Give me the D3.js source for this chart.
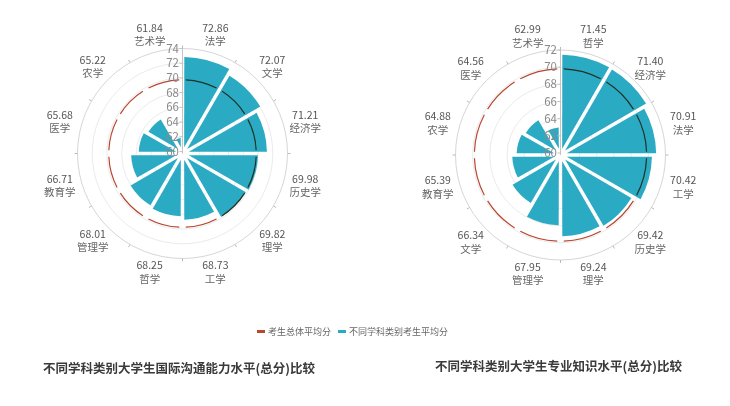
<!DOCTYPE html>
<html>
<head>
<meta charset="utf-8">
<script src="https://cdn.jsdelivr.net/npm/d3@7/dist/d3.min.js"></script>
<style>
  body { margin: 0; background: #fff; }
  svg { display: block; font-family: "Noto Sans CJK SC", "Noto Sans", sans-serif; }
</style>
</head>
<body>
<div id="graf"></div>
<script>
// I. Datos
subjects1 = ['法学', '文学', '经济学', '历史学', '理学', '工学', '哲学', '管理学', '教育学', '医学', '农学', '艺术学']
scores1   = [72.86, 72.07, 71.21, 69.98, 69.82, 68.73, 68.25, 68.01, 66.71, 65.68, 65.22, 61.84]
overall1  = 69.75
ticks1    = [60, 62, 64, 66, 68, 70, 72, 74]
title1    = '不同学科类别大学生国际沟通能力水平(总分)比较'

subjects2 = ['哲学', '经济学', '法学', '工学', '历史学', '理学', '管理学', '文学', '教育学', '农学', '医学', '艺术学']
scores2   = [71.45, 71.40, 70.91, 70.42, 69.42, 69.24, 67.95, 66.34, 65.39, 64.88, 64.56, 62.99]
overall2  = 69.8
ticks2    = [60, 62, 64, 66, 68, 70, 72]
title2    = '不同学科类别大学生专业知识水平(总分)比较'

legendNames = ['考生总体平均分', '不同学科类别考生平均分']

// II. Configuración
ancho = 730
alto = 406
R = 105
barColor = '#2aaac3'
avgColor = '#b8472f'

svg = d3.select('#graf').append('svg')
        .attr('width', ancho)
        .attr('height', alto)

svg.append('rect').attr('width', ancho).attr('height', alto).attr('fill', '#fff')

// III. Rosa polar
function rose(cx, cy, subjects, scores, overall, ticks) {
  g = svg.append('g').attr('transform', `translate(${cx}, ${cy})`)

  r = d3.scaleLinear()
        .domain([60, d3.max(ticks)])
        .range([2, R])
  a = d3.scaleBand()
        .domain(subjects)
        .range([0, 2 * Math.PI])
  data = subjects.map((s, i) => ({ name: s, value: scores[i] }))

  // círculos de la rejilla
  g.selectAll('circle.grid')
    .data(ticks.slice(1))
    .enter().append('circle')
      .attr('class', 'grid')
      .attr('r', d => r(d))
      .attr('fill', 'none')
      .attr('stroke', d => d === d3.max(ticks) ? '#d6d6d6' : '#ebebeb')
      .attr('stroke-width', 1)

  // marcas del eje angular
  g.selectAll('line.atick')
    .data(subjects)
    .enter().append('line')
      .attr('class', 'atick')
      .attr('x1', d => Math.sin(a(d)) * R)
      .attr('y1', d => -Math.cos(a(d)) * R)
      .attr('x2', d => Math.sin(a(d)) * (R + 3))
      .attr('y2', d => -Math.cos(a(d)) * (R + 3))
      .attr('stroke', '#b8b8c8')
      .attr('stroke-width', 1)

  barArc = d3.arc()
    .innerRadius(6.5)
    .outerRadius(d => r(d.value))
    .startAngle(d => a(d.name))
    .endAngle(d => a(d.name) + a.bandwidth())
    .padAngle(0.036)
    .padRadius(100)

  g.selectAll('path.bar')
    .data(data)
    .enter().append('path')
      .attr('class', 'bar')
      .attr('d', barArc)
      .attr('fill', barColor)

  avgArc = d3.arc()
    .innerRadius(r(overall) - 0.6)
    .outerRadius(r(overall) + 0.6)
    .startAngle(d => a(d.name))
    .endAngle(d => a(d.name) + a.bandwidth())
    .padAngle(0.065)
    .padRadius(100)

  g.selectAll('path.avg')
    .data(data)
    .enter().append('path')
      .attr('class', 'avg')
      .attr('d', avgArc)
      .attr('fill', avgColor)
      .style('mix-blend-mode', 'multiply')

  // eje radial
  g.append('line')
    .attr('x1', 0).attr('y1', 0)
    .attr('x2', 0).attr('y2', -R)
    .attr('stroke', '#c4c4c4')

  tk = g.selectAll('g.rtick')
    .data(ticks)
    .enter().append('g')
      .attr('class', 'rtick')
      .attr('transform', d => `translate(0, ${-r(d)})`)
  tk.append('line')
    .attr('x1', -3).attr('x2', 0)
    .attr('stroke', '#c4c4c4')
  tk.append('text')
    .attr('x', -3.5)
    .attr('dy', '0.36em')
    .attr('text-anchor', 'end')
    .attr('font-size', '11.5px')
    .attr('fill', '#8a8a8a')
    .text(d => d)

  // etiquetas de categorías
  lab = g.selectAll('text.cat')
    .data(data)
    .enter().append('text')
      .attr('class', 'cat')
      .attr('text-anchor', 'middle')
      .attr('font-size', '10.5px')
      .attr('fill', '#555')
      .attr('transform', d => {
        t = a(d.name) + a.bandwidth() / 2
        px = Math.sin(t) * (111 + 16)
        py = -Math.cos(t) * (111 + 12)
        return `translate(${px}, ${py})`
      })
  lab.append('tspan')
    .attr('x', 0).attr('y', -6.5).attr('dy', '0.35em')
    .text(d => d.value.toFixed(2))
  lab.append('tspan')
    .attr('x', 0).attr('y', 7).attr('dy', '0.35em')
    .attr('fill', '#666')
    .text(d => d.name)
}

rose(182.5, 153.5, subjects1, scores1, overall1, ticks1)
rose(560.5, 155, subjects2, scores2, overall2, ticks2)

// IV. Leyenda
legendX = [257, 338]
legendColors = [avgColor, barColor]
legendNames.forEach((n, i) => {
  svg.append('rect')
    .attr('x', legendX[i]).attr('y', 330)
    .attr('width', 8).attr('height', 3)
    .attr('fill', legendColors[i])
  svg.append('text')
    .attr('x', legendX[i] + 11).attr('y', 331.5)
    .attr('dy', '0.35em')
    .attr('font-size', '9px')
    .attr('fill', '#666')
    .text(n)
})

// V. Títulos
;[[43, 369, title1], [435, 367, title2]].forEach(t => {
  svg.append('text')
    .attr('x', t[0]).attr('y', t[1])
    .attr('dy', '0.35em')
    .attr('font-size', '12.5px')
    .attr('font-weight', 'bold')
    .attr('fill', '#3a3a3a')
    .text(t[2])
})
</script>
</body>
</html>
